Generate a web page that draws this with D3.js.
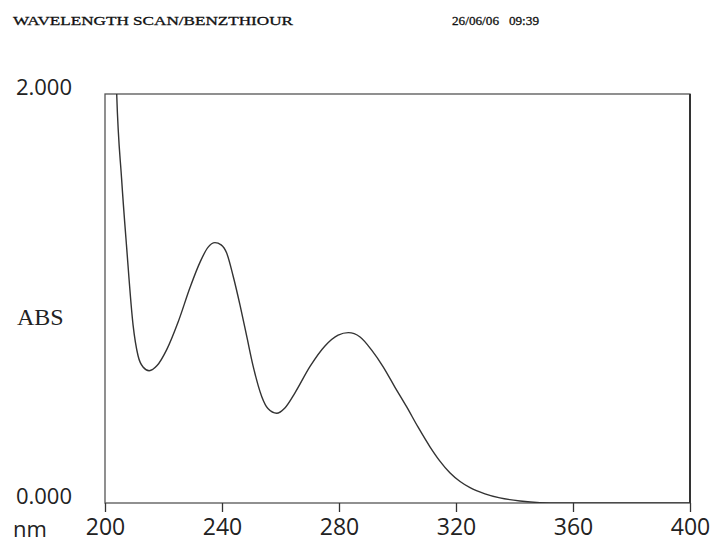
<!DOCTYPE html>
<html>
<head>
<meta charset="utf-8">
<script src="https://cdn.jsdelivr.net/npm/d3@7"></script>
<style>
  body { margin: 0; background: #fff; }
  svg { display: block; }
</style>
</head>
<body>
<div id="root"></div>
<script>
// scan data
var wavelength = [203.5, 204.0, 205.7, 207.4, 209.6, 211.3, 213.0, 215.1, 217.8, 221.1, 225.0,
  229.1, 232.5, 235.2, 237.6, 239.7, 241.6, 243.8, 246.2, 248.5, 250.6, 253.6, 255.7,
  258.7, 261.5, 265.0, 270.1, 275.2, 279.7, 283.2, 287.2, 291.3, 295.1, 299.1, 303.1,
  307.0, 311.1, 314.5, 317.9, 321.4, 324.8, 329.9, 335.0, 341.9, 348.7, 355.6, 370, 385, 400];
var absorb = [2.25, 2.0, 1.58, 1.25, 0.87, 0.72, 0.665, 0.647, 0.672, 0.75, 0.885,
  1.055, 1.178, 1.250, 1.273, 1.262, 1.222, 1.11, 0.965, 0.812, 0.672, 0.52, 0.462,
  0.439, 0.465, 0.54, 0.668, 0.768, 0.821, 0.833, 0.812, 0.745, 0.666, 0.567, 0.471,
  0.372, 0.275, 0.205, 0.148, 0.105, 0.075, 0.045, 0.025, 0.010, 0.002, 0.0, 0.0, 0.0, 0.0];
var xTicks = [200, 240, 280, 320, 360, 400];
var yTicks = [0, 2];
var title = "WAVELENGTH SCAN/BENZTHIOUR";
var stamp = "26/06/06   09:39";

var width = 715, height = 546;
var plotL = 105, plotR = 690, plotT = 94, plotB = 503;

var svg = d3.select("#root").append("svg")
  .attr("width", width)
  .attr("height", height);

var x = d3.scaleLinear().domain([200, 400]).range([plotL, plotR]);
var y = d3.scaleLinear().domain([0, 2]).range([plotB, plotT]);

// header line
svg.append("text")
  .attr("x", 13).attr("y", 25)
  .attr("textLength", 280).attr("lengthAdjust", "spacingAndGlyphs")
  .style("font-family", "Liberation Serif").style("font-size", "13px")
  .style("fill", "#111").style("stroke", "#111").style("stroke-width", 0.3)
  .text(title);
svg.append("text")
  .attr("x", 452).attr("y", 25)
  .attr("textLength", 87).attr("lengthAdjust", "spacingAndGlyphs")
  .style("font-family", "Liberation Serif").style("font-size", "13px")
  .style("fill", "#111").style("stroke", "#111").style("stroke-width", 0.3)
  .style("white-space", "pre")
  .text(stamp);

// frame
svg.append("rect")
  .attr("x", plotL).attr("y", plotT)
  .attr("width", plotR - plotL).attr("height", plotB - plotT)
  .attr("fill", "none").attr("stroke", "#555").attr("stroke-width", 1.3);
svg.append("line")
  .attr("x1", plotR).attr("x2", plotR).attr("y1", plotT).attr("y2", plotB)
  .attr("stroke", "#333").attr("stroke-width", 2);

// bottom axis
var xAxis = d3.axisBottom(x).tickValues(xTicks).tickSize(9).tickPadding(7).tickFormat(d3.format("d"));
var gx = svg.append("g")
  .attr("transform", "translate(0," + plotB + ")")
  .call(xAxis);
gx.select(".domain").remove();
gx.selectAll(".tick line").attr("stroke", "#333").attr("stroke-width", 1.3);
gx.selectAll(".tick text")
  .style("font-family", "Open Sans").style("font-size", "23px").style("fill", "#222")
  .attr("dy", "0.71em");

// left labels
var yAxis = d3.axisLeft(y).tickValues(yTicks).tickSize(0).tickPadding(33).tickFormat(d3.format(".3f"));
var gy = svg.append("g")
  .attr("transform", "translate(" + plotL + ",0)")
  .call(yAxis);
gy.select(".domain").remove();
gy.selectAll(".tick text")
  .style("font-family", "Open Sans").style("font-size", "22px").style("fill", "#222")
  .attr("dy", "0.32em").attr("y", -7);

svg.append("text")
  .attr("x", 17).attr("y", 325)
  .style("font-family", "Liberation Serif").style("font-size", "24px").style("fill", "#222")
  .text("ABS");
svg.append("text")
  .attr("x", 13).attr("y", 537)
  .style("font-family", "Open Sans").style("font-size", "22px").style("fill", "#222")
  .text("nm");

// spectrum
svg.append("clipPath").attr("id", "plot")
  .append("rect")
  .attr("x", plotL).attr("y", plotT)
  .attr("width", plotR - plotL).attr("height", plotB - plotT);

var pts = wavelength.map(function (d, i) { return [d, absorb[i]]; });
var line = d3.line()
  .x(function (d) { return x(d[0]); })
  .y(function (d) { return y(d[1]); })
  .curve(d3.curveMonotoneX);

svg.append("path")
  .datum(pts)
  .attr("clip-path", "url(#plot)")
  .attr("d", line)
  .attr("fill", "none")
  .attr("stroke", "#333")
  .attr("stroke-width", 1.4);
</script>
</body>
</html>
